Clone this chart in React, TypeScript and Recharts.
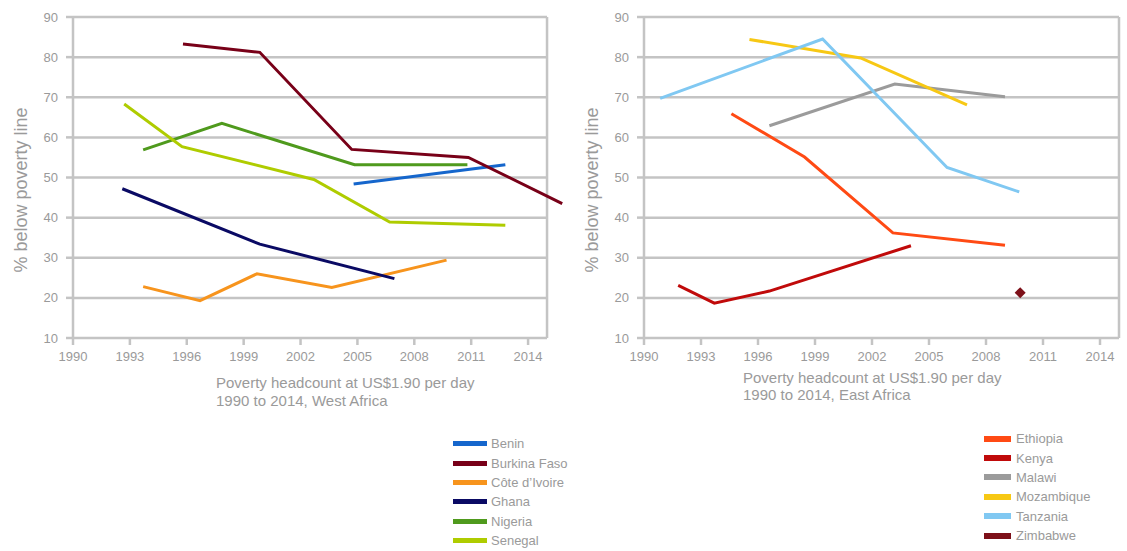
import React from 'react';
import { LineChart, Line, XAxis, YAxis, ReferenceLine, Legend, Label } from 'recharts';

const FONT = '"Liberation Sans", Arial, Helvetica, sans-serif';
const TEXT = '#9a9a9a';
const RULE = '#c4c4c4';

const yearTicks = [1990, 1993, 1996, 1999, 2002, 2005, 2008, 2011, 2014];
const valueTicks = [10, 20, 30, 40, 50, 60, 70, 80, 90];

// West Africa, [year, % below poverty line]
const benin = [[2004.8, 48.4], [2012.8, 53.2]];
const burkinaFaso = [[1995.8, 83.3], [1999.85, 81.2], [2004.7, 57.0], [2010.85, 55.0], [2015.8, 43.5]];
const coteDIvoire = [[1993.7, 22.8], [1996.7, 19.3], [1999.7, 26.0], [2003.65, 22.6], [2009.7, 29.4]];
const ghana = [[1992.6, 47.2], [1999.85, 33.4], [2006.95, 24.8]];
const nigeria = [[1993.7, 56.9], [1997.85, 63.5], [2004.85, 53.2], [2010.8, 53.2]];
const senegal = [[1992.7, 68.3], [1995.75, 57.7], [2002.7, 49.5], [2006.7, 38.9], [2012.8, 38.1]];

const westNames = ['Benin', 'Burkina Faso', 'Côte d’Ivoire', 'Ghana', 'Nigeria', 'Senegal'];
const westColors = ['#1566cc', '#780018', '#f7941d', '#0a0a64', '#4f9a1d', '#afcc00'];
const westSeries = [benin, burkinaFaso, coteDIvoire, ghana, nigeria, senegal];

// East Africa
const ethiopia = [[1994.6, 65.9], [1998.45, 55.1], [2003.1, 36.2], [2009.0, 33.1]];
const kenya = [[1991.8, 23.1], [1993.7, 18.7], [1996.6, 21.7], [2004.05, 33.0]];
const malawi = [[1996.6, 62.9], [2003.2, 73.3], [2009.0, 70.1]];
const mozambique = [[1995.55, 84.4], [2001.4, 79.8], [2007.0, 68.1]];
const tanzania = [[1990.85, 69.7], [1999.4, 84.5], [2005.95, 52.5], [2009.75, 46.4]];
const zimbabwe = [[2009.8, 21.3]];

const eastNames = ['Ethiopia', 'Kenya', 'Malawi', 'Mozambique', 'Tanzania', 'Zimbabwe'];
const eastColors = ['#ff4a14', '#c00a0a', '#9b9b9b', '#f7c814', '#80c8f2', '#7d1019'];
const eastSeries = [ethiopia, kenya, malawi, mozambique, tanzania, zimbabwe];

const toPoints = (pairs: number[][]) => pairs.map(([year, value]) => ({ year, value }));

function Diamond(props: any) {
  const { cx, cy, stroke } = props;
  if (cx == null || cy == null) return null;
  const r = 5.5;
  return <polygon points={`${cx},${cy - r} ${cx + r},${cy} ${cx},${cy + r} ${cx - r},${cy}`} fill={stroke} />;
}

function KeyList(props: any) {
  const { payload, swatchWidth, swatchHeight, textLeft } = props;
  return (
    <div style={{ fontFamily: FONT, fontSize: 13, color: TEXT }}>
      {(payload || []).map((p: any) => (
        <div key={p.value} style={{ display: 'flex', alignItems: 'center', height: 19.4 }}>
          <span style={{ display: 'inline-block', width: swatchWidth, height: swatchHeight, background: p.color, marginRight: textLeft - swatchWidth }} />
          <span>{p.value}</span>
        </div>
      ))}
    </div>
  );
}

type PanelProps = {
  names: string[];
  colors: string[];
  series: number[][][];
  xMax: number;
  pageLeft: number;
  width: number;
  marginLeft: number;
  marginRight: number;
  region: string;
  titleX: number;
  titleY: number;
  titleGap: number;
  legendX: number;
  legendY: number;
  swatchWidth: number;
  swatchHeight: number;
  textLeft: number;
  diamondLast?: boolean;
};

function Panel(p: PanelProps) {
  const plotLeft = p.marginLeft + 60;
  return (
    <div style={{ position: 'absolute', left: p.pageLeft, top: 0 }}>
      <LineChart width={p.width} height={551} margin={{ top: 16, right: p.marginRight, bottom: 183, left: p.marginLeft }}>
        <XAxis
          type="number"
          dataKey="year"
          domain={[1990, p.xMax]}
          ticks={yearTicks}
          interval={0}
          axisLine={false}
          tickSize={7}
          tickMargin={7}
          height={30}
          tickLine={{ stroke: RULE, strokeWidth: 2.5 }}
          tick={{ fill: TEXT, fontSize: 13, fontFamily: FONT }}
        >
          <Label
            content={() => (
              <text fill={TEXT} fontSize={15} fontFamily={FONT}>
                <tspan x={p.titleX} y={p.titleY}>Poverty headcount at US$1.90 per day</tspan>
                <tspan x={p.titleX} y={p.titleY + p.titleGap}>{`1990 to 2014, ${p.region}`}</tspan>
              </text>
            )}
          />
        </XAxis>
        <XAxis
          xAxisId="top"
          orientation="top"
          type="number"
          domain={[1990, p.xMax]}
          ticks={yearTicks}
          interval={0}
          axisLine={false}
          tick={false}
          tickSize={5}
          height={1}
          tickLine={{ stroke: RULE, strokeWidth: 2.5 }}
        />
        <YAxis
          type="number"
          domain={[10, 90]}
          ticks={valueTicks}
          interval={0}
          width={60}
          tickSize={7}
          tickMargin={8}
          axisLine={{ stroke: RULE, strokeWidth: 2.5 }}
          tickLine={{ stroke: RULE, strokeWidth: 2.5 }}
          tick={{ fill: TEXT, fontSize: 13, fontFamily: FONT }}
        >
          <Label
            content={() => {
              const x = plotLeft - 52;
              const y = 190;
              return (
                <text x={x} y={y} transform={`rotate(-90 ${x} ${y})`} textAnchor="middle" dominantBaseline="central" fill={TEXT} fontSize={18} fontFamily={FONT}>
                  % below poverty line
                </text>
              );
            }}
          />
        </YAxis>
        {valueTicks.map((v) => (
          <ReferenceLine key={v} segment={[{ x: 1990, y: v }, { x: 2015, y: v }]} stroke={RULE} strokeWidth={2.5} />
        ))}
        <ReferenceLine x={2015} stroke={RULE} strokeWidth={2.5} />
        {p.series.map((s, i) => {
          const isDiamond = p.diamondLast && i === p.series.length - 1;
          return (
            <Line
              key={p.names[i]}
              data={toPoints(s)}
              dataKey="value"
              name={p.names[i]}
              type="linear"
              stroke={p.colors[i]}
              strokeWidth={3}
              dot={isDiamond ? <Diamond /> : false}
              activeDot={false}
              isAnimationActive={false}
            />
          );
        })}
        <Legend
          layout="vertical"
          align="center"
          verticalAlign="middle"
          wrapperStyle={{ left: p.legendX, top: p.legendY, width: 160 }}
          content={(props: any) => (
            <KeyList {...props} swatchWidth={p.swatchWidth} swatchHeight={p.swatchHeight} textLeft={p.textLeft} />
          )}
        />
      </LineChart>
    </div>
  );
}

export default function App() {
  return (
    <div style={{ position: 'absolute', left: 0, top: 0, width: 1127, height: 551, background: '#fff' }}>
      <Panel
        names={westNames}
        colors={westColors}
        series={westSeries}
        xMax={2016}
        pageLeft={0}
        width={580}
        marginLeft={13}
        marginRight={14}
        region="West Africa"
        titleX={216}
        titleY={388}
        titleGap={18}
        legendX={453}
        legendY={434}
        swatchWidth={34}
        swatchHeight={5}
        textLeft={38}
      />
      <Panel
        names={eastNames}
        colors={eastColors}
        series={eastSeries}
        xMax={2015}
        pageLeft={575}
        width={552}
        marginLeft={9}
        marginRight={8}
        region="East Africa"
        titleX={168}
        titleY={383}
        titleGap={17}
        legendX={409}
        legendY={429}
        swatchWidth={27}
        swatchHeight={6}
        textLeft={32}
        diamondLast
      />
    </div>
  );
}
